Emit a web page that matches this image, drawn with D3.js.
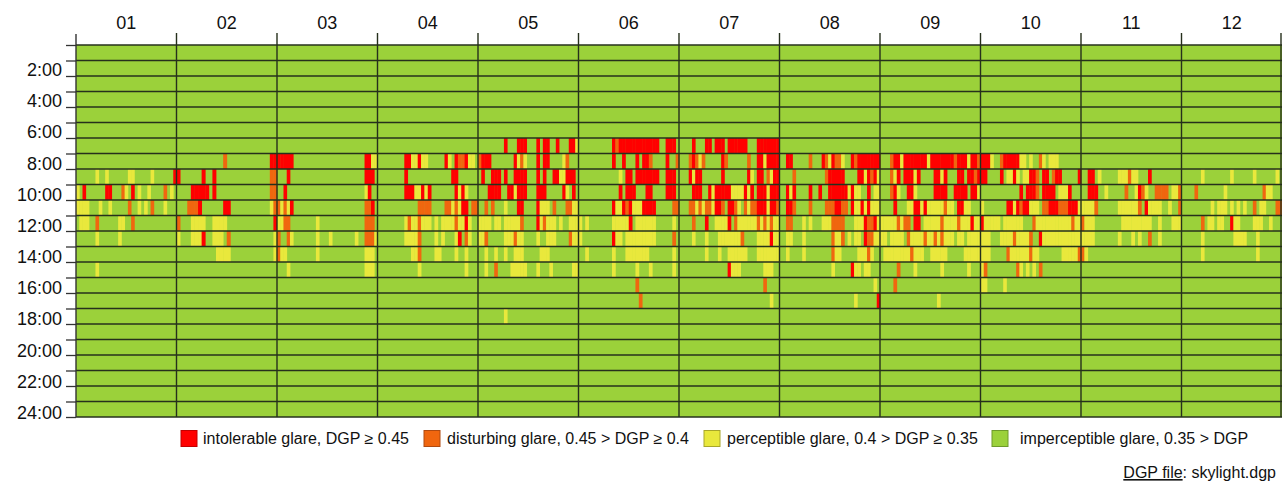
<!DOCTYPE html><html lang="en"><head><meta charset="utf-8">
<title>Daylight glare probability - skylight.dgp</title>
<script src="https://cdn.jsdelivr.net/npm/d3@7"></script>
<style>
body {
	margin: 0;
	background: #fff;
}
svg {
	display: block;
	font-family: Arial, "Liberation Sans", sans-serif;
}
</style>
</head>
<body>
<div id="chart"></div>
<script>
// months and number of days, each month gets the same width
const months = ["01", "02", "03", "04", "05", "06", "07", "08", "09", "10", "11", "12"];
const monthDays = [31, 28, 31, 30, 31, 30, 31, 31, 30, 31, 30, 31];
const hourLabels = [2, 4, 6, 8, 10, 12, 14, 16, 18, 20, 22, 24];

// glare class per day, one string per month ("" = all imperceptible)
// r intolerable, o disturbing, y perceptible, . imperceptible
const h06 = ["", "", "", "",
	"........r...rrr...r.rr..r...rry",
	"..........rorrrrrrrrrrrr..rrr.",
	"....r...rr.rrr.rrrrrr...rrrrrrr",
	"", "", "", "", ""];
const h07 = ["",
	".............o............rr",
	"rrrrr......................rryy",
	"........rryyryy.....ry.rooryy.",
	"orrr.......ryoy...r.rr....yo...",
	"..........r..r...r.rro....r..o",
	"...oroyo.....ro......o..rryrrrr",
	"..rr.....o...royrooy..rorrrrrrr",
	"...orryrrrrrrryrrrrrrrorrryrro",
	"rrry..orrrrryy.y..oy.yyy.......",
	"", ""];
const h08 = ["......y..y......yy.....y......r",
	"r......r..r...............oo",
	"...r.......................rrr.",
	"........r.............rr......",
	".r..rrr.r..rrrr...r.r..rryyrrr.",
	"............y.rr.rrrrrrr..rrr.",
	"...ryrr......r.......ry.rr.oyrr",
	"....o.........orrrrr....rryrory",
	"...oyr.rrryr....rryr...rr.rror",
	"rr....r.yyry.yyrro.rr.orr.....r",
	"..rr.y.....yyyoyy...r.........",
	"......y........y......y......y."];
const h09 = ["y.r......rr...oy.r.y..y....o.y.",
	"....rrrrr.r...............oo",
	"..r........................yr..",
	"........rrryyryr.......ryry...",
	"...rrrr..rryrrr...rrr.....ry.r.",
	"............r.rrr...rr....rrr.",
	"....rrr..ryrrrrryyyyryr.rrryrrr",
	"..ryr....r..r..rrrrrryryy..r.yy",
	"...ory..rry.....rrrr..rrrr.rry",
	"............r.rrro.rrrr.yyyr...",
	"..rrr..y.....o..yroy..oooo.yyo",
	"....o........y...........oyy..."];
const h10 = ["yyyy...y..y.....o..y.y.o...y...",
	"...ooor......rr...........yo",
	"oyoyr......................oor.",
	"............oooo....ooyoyrr.oo",
	"..o.o...y...rr....ryyy.o...ooyy",
	"..........ryyroryyyrrrr.....oo",
	"...ooyoyooyrro.rroy.oyoorrryrro",
	"..rro....o....ooorroo.ryyryryyy",
	"....r...yyrryryyyyyoyy.rryy...",
	"y.......rryrorryyy.oorrrooorrry",
	"yyyyo......yyyyyyo.ryyyy..y..o",
	".........y.yyy.y.y.y..o.yy...oo"];
const h11 = [".yyy..o......yy..o.............",
	"o...yyyy..yyyy.............r",
	"yyoo........y..............ooo.",
	"........yoyyoyyy.y.yyyyoyyry..",
	"yyyy.yy.yyyyyo....ryoyyy.y..yyy",
	"y.y.......yyyyyr.yyyyyy.....y.",
	"....o...r..yyyyr.oyyyyyyoyoyoyy",
	"..oo...y.y...yyyoooo...yyyroory",
	"yyyyyoyoo.rr.yyyyyoyyyyoyyyryy",
	"ryyyyy.yyyyyy...oyyyyyyyyyyyoyy",
	"oyyy........yyyyyyyyy..y...yyy",
	"......o.yy.yy..ryy....yyy..y..."];
const h12 = ["......y......y.................",
	"y...yyyr..yyy.o............y",
	"o..oy.......y...y.......y..oooy",
	"........yyyyo....y.y...yr.oy..",
	"yyo.....yyyoyy....y..yyy....oyy",
	"y.........ryy.yyyyyyyyy.....o.",
	"....y...y...yyyyyyyo....yyyyryy",
	"..yy...y........oyyo.y.yy.rooyy",
	"yy.yyyy.oyyyyoyyoyoyyy.yy.yyyy",
	"yyy...yyyyoyyyyo..ryyyyyyyyyyyy",
	"yyyy.......y...y.y..o..y......",
	"......y.........yyyy...y......."];
const h13 = ["",
	"...........yyyy............y",
	"oyy.........y..............yyy.",
	"..........yyo....yy....y..y...",
	"..y..y..y..yyy.....yyy.........",
	"..y.......y...yyyyyyy.......y.",
	"........y...y..yyyyyy...yyyyyyy",
	"..y....y........oyy.....yyyoy..",
	".yyyyyyyyoyyy..yyyyy.....yyyyy",
	"yyy.....oyyyyyyoyy.......yyyyyo",
	"oy............................",
	"......y................y......."];
const h14 = ["......y........................",
	"",
	"...y.......................yyy.",
	"............y.............y...",
	"..y..o....yyyyy...y...y......yy",
	"..........y......y...y......y.",
	"...............ryyy.......yyy..",
	"................y.....ryy.yy...",
	".....o....y.......y.......y...",
	"yo.........oy.y.y.o............",
	"", ""];
const h15 = ["", "", "", "", "",
	".................o............",
	"..........................o....",
	".............................y.",
	"....o.........................",
	"yy.....y.......................",
	"", ""];
const h16 = ["", "", "", "", "",
	"..................o...........",
	"............................y..",
	".......................y......r",
	".................y............",
	"", "", ""];
const h17 = ["", "", "", "",
	"........y......................",
	"", "", "", "", "", "", ""];

const hourRows = [[6, h06], [7, h07], [8, h08], [9, h09], [10, h10], [11, h11],
	[12, h12], [13, h13], [14, h14], [15, h15], [16, h16], [17, h17]];

const classes = ["r", "o", "y", "."];
const legendLabels = [
	"intolerable glare, DGP ≥ 0.45",
	"disturbing glare, 0.45 > DGP ≥ 0.4",
	"perceptible glare, 0.4 > DGP ≥ 0.35",
	"imperceptible glare, 0.35 > DGP"
];

window.onload = () => {
	const width = 1282, height = 482;
	const left = 76, right = 1282, top = 45, bottom = 417;

	const svg = d3.select("#chart").append("svg")
		.attr("width", width)
		.attr("height", height);

	const x = d3.scaleBand().domain(months).range([left, right]);
	const y = d3.scaleLinear().domain([0, 24]).range([top, bottom]);
	const yLabel = d3.scaleLinear().domain([2, 24]).range([70, 413]);
	const fill = d3.scaleOrdinal().domain(classes)
		.range(["#ff0000", "#f0660f", "#e9e83c", "#9bd13a"]);
	const stroke = d3.scaleOrdinal().domain(classes)
		.range(["#c20000", "#b04a10", "#a8a62a", "#6e9a2a"]);

	// green background = imperceptible
	svg.append("rect")
		.attr("x", left).attr("y", y(0))
		.attr("width", right - left).attr("height", y(24) - y(0))
		.attr("fill", fill("."));

	// cells
	const cells = [];
	hourRows.forEach(([hour, row]) => {
		row.forEach((s, m) => {
			const n = Math.min(s.length, monthDays[m]);
			for (let d = 0; d < n; d++) {
				if (s[d] !== ".") cells.push({ hour, m, d, c: s[d] });
			}
		});
	});
	const dayW = m => x.bandwidth() / monthDays[m];
	svg.append("g").selectAll("rect").data(cells).join("rect")
		.attr("x", d => x(months[d.m]) + d.d * dayW(d.m))
		.attr("width", d => dayW(d.m) + 0.4)
		.attr("y", d => y(d.hour))
		.attr("height", y(1) - y(0))
		.attr("fill", d => fill(d.c));

	// hour lines
	svg.append("g").selectAll("line").data(d3.range(25)).join("line")
		.attr("x1", left).attr("x2", right)
		.attr("y1", d => y(d)).attr("y2", d => y(d))
		.attr("stroke", "#26301c").attr("stroke-width", 1.6);

	// month separators
	svg.append("g").selectAll("line").data(months.slice(1).map(m => x(m)).concat([right - 1])).join("line")
		.attr("x1", d => d).attr("x2", d => d)
		.attr("y1", 33).attr("y2", bottom)
		.attr("stroke", "#26301c").attr("stroke-width", 1.4);

	// left axis: ticks on every hour
	const yAxis = svg.append("g")
		.attr("transform", `translate(${left}, 0)`)
		.call(d3.axisLeft(y).tickValues(d3.range(25)).tickFormat("").tickSize(10).tickSizeOuter(0));
	yAxis.select(".domain").remove();
	yAxis.selectAll(".tick line").attr("stroke", "#333").attr("stroke-width", 1.3);
	svg.append("line")
		.attr("x1", left).attr("x2", left).attr("y1", 34).attr("y2", bottom)
		.attr("stroke", "#333").attr("stroke-width", 1.4);

	svg.append("g").selectAll("text").data(hourLabels).join("text")
		.attr("x", 62)
		.attr("y", d => yLabel(d))
		.attr("text-anchor", "end")
		.attr("dominant-baseline", "central")
		.attr("font-size", 18)
		.attr("fill", "#111")
		.text(d => `${d}:00`);

	// month labels on top
	const xAxis = svg.append("g")
		.attr("transform", `translate(0, 44)`)
		.call(d3.axisTop(x).tickSize(0).tickPadding(15));
	xAxis.select(".domain").remove();
	xAxis.selectAll("text")
		.attr("font-size", 18)
		.attr("font-family", "Arial, 'Liberation Sans', sans-serif")
		.attr("fill", "#111");

	// legend
	const legX = [181, 424, 704, 992];
	const legTextX = [203, 447, 727, 1020];
	const leg = svg.append("g").selectAll("g").data(classes).join("g");
	leg.append("rect")
		.attr("x", (d, i) => legX[i]).attr("y", 430.5)
		.attr("width", 16).attr("height", 16)
		.attr("fill", d => fill(d))
		.attr("stroke", d => stroke(d));
	leg.append("text")
		.attr("x", (d, i) => legTextX[i]).attr("y", 444)
		.attr("font-size", 16)
		.attr("fill", "#111")
		.text((d, i) => legendLabels[i]);

	const foot = svg.append("text")
		.attr("x", 1276).attr("y", 478)
		.attr("text-anchor", "end")
		.attr("font-size", 16)
		.attr("fill", "#111");
	foot.append("tspan").attr("text-decoration", "underline").text("DGP file");
	foot.append("tspan").text(": skylight.dgp");
};
</script>
</body>
</html>
